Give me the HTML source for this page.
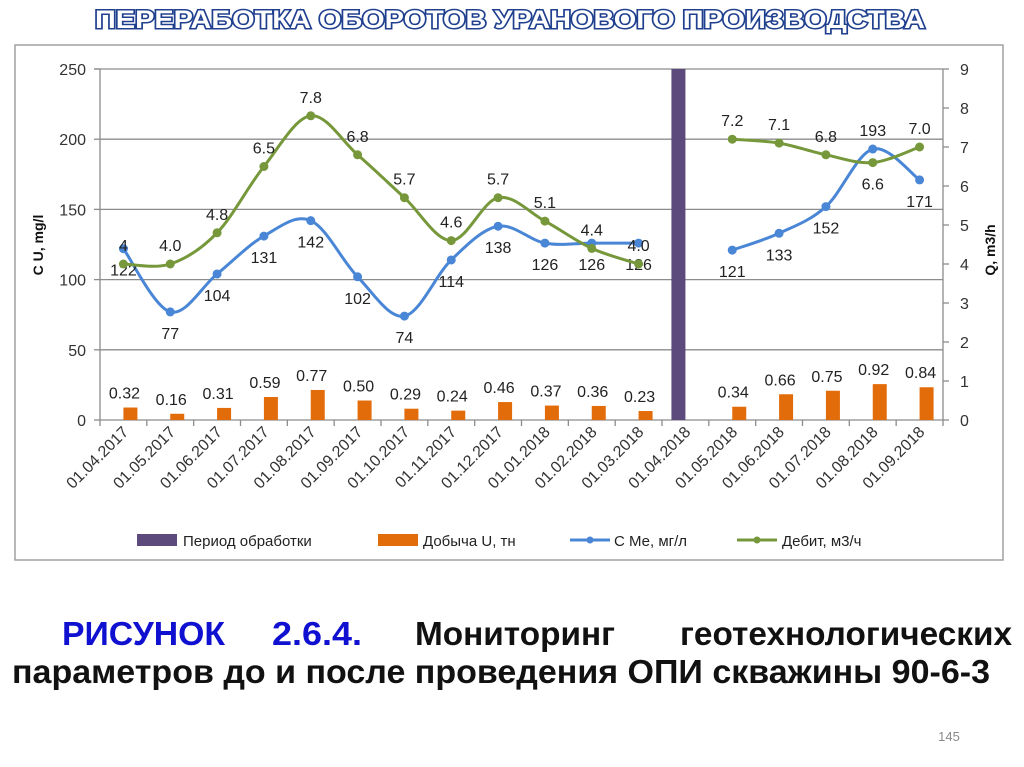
<!DOCTYPE html>
<html><head><meta charset="utf-8"><style>
html,body{margin:0;padding:0;background:#fff;}
svg{display:block;font-family:"Liberation Sans","DejaVu Sans",sans-serif;}
</style></head><body>
<svg id="s" width="1024" height="767" viewBox="0 0 1024 767" xmlns="http://www.w3.org/2000/svg">
<text x="95" y="28" font-size="25" font-weight="bold" fill="#fff" stroke="#1f3f8f" stroke-width="3" paint-order="stroke" textLength="830" lengthAdjust="spacingAndGlyphs">ПЕРЕРАБОТКА ОБОРОТОВ УРАНОВОГО ПРОИЗВОДСТВА</text>
<rect x="15" y="45" width="988" height="515" fill="#fff" stroke="#a0a0a0" stroke-width="1.5"/>
<g id="chart"></g>
<g>
<rect x="137" y="534" width="40" height="12" fill="#5c4a7d"/>
<text x="183" y="546" font-size="15" fill="#222">Период обработки</text>
<rect x="378" y="534" width="40" height="12" fill="#e36c0a"/>
<text x="423" y="546" font-size="15" fill="#222">Добыча U, тн</text>
<line x1="570" y1="540" x2="610" y2="540" stroke="#4a86d6" stroke-width="3"/>
<circle cx="590" cy="540" r="3.5" fill="#4a86d6"/>
<text x="614" y="546" font-size="15" fill="#222">С Ме, мг/л</text>
<line x1="737" y1="540" x2="777" y2="540" stroke="#76983b" stroke-width="3"/>
<circle cx="757" cy="540" r="3.5" fill="#76983b"/>
<text x="782" y="546" font-size="15" fill="#222">Дебит, м3/ч</text>
</g>
<g font-weight="bold" font-size="33">
<text x="62" y="645" fill="#1010d0" textLength="163" lengthAdjust="spacingAndGlyphs">РИСУНОК</text>
<text x="272" y="645" fill="#1010d0" textLength="90" lengthAdjust="spacingAndGlyphs">2.6.4.</text>
<text x="415" y="645" fill="#111" textLength="200" lengthAdjust="spacingAndGlyphs">Мониторинг</text>
<text x="680" y="645" fill="#111" textLength="332" lengthAdjust="spacingAndGlyphs">геотехнологических</text>
<text x="12" y="683" fill="#111" textLength="978" lengthAdjust="spacingAndGlyphs">параметров до и после проведения ОПИ скважины 90-6-3</text>
</g>
<text x="949" y="741" font-size="13" fill="#888" text-anchor="middle">145</text>
</svg>
<script>
const categories=["01.04.2017","01.05.2017","01.06.2017","01.07.2017","01.08.2017","01.09.2017","01.10.2017","01.11.2017","01.12.2017","01.01.2018","01.02.2018","01.03.2018","01.04.2018","01.05.2018","01.06.2018","01.07.2018","01.08.2018","01.09.2018"];
const concValues=[122,77,104,131,142,102,74,114,138,126,126,126,null,121,133,152,193,171];
const debitValues=[4.0,4.0,4.8,6.5,7.8,6.8,5.7,4.6,5.7,5.1,4.4,4.0,null,7.2,7.1,6.8,6.6,7.0];
const debitLabels=["4","4.0","4.8","6.5","7.8","6.8","5.7","4.6","5.7","5.1","4.4","4.0",null,"7.2","7.1","6.8","6.6","7.0"];
const prodValues=[0.32,0.16,0.31,0.59,0.77,0.50,0.29,0.24,0.46,0.37,0.36,0.23,null,0.34,0.66,0.75,0.92,0.84];
const prodLabels=["0.32","0.16","0.31","0.59","0.77","0.50","0.29","0.24","0.46","0.37","0.36","0.23",null,"0.34","0.66","0.75","0.92","0.84"];
const periodValues=[null,null,null,null,null,null,null,null,null,null,null,null,9,null,null,null,null,null];
const leftTicks=[0,50,100,150,200,250];
const rightTicks=[0,1,2,3,4,5,6,7,8,9];
const concLabelPos=["below","below","below","below","below","below","below","below","below","below","below","below",null,"below","below","below","above","below"];
const debitLabelPos=["above","above","above","above","above","above","above","above","above","above","above","above",null,"above","above","above","below","above"];

const NS="http://www.w3.org/2000/svg";
const g=document.getElementById('chart');
const X0=100,X1=943,Y0=420,Y1=69;
const bw=(X1-X0)/categories.length;
const xC=i=>X0+(i+0.5)*bw;
const yL=v=>Y0-(v/250)*(Y0-Y1);
const yR=v=>Y0-(v/9)*(Y0-Y1);
function el(t,a,p){const e=document.createElementNS(NS,t);for(const k in a)e.setAttribute(k,a[k]);(p||g).appendChild(e);return e;}
function txt(x,y,s,a){const e=el('text',Object.assign({x:x,y:y},a));e.textContent=s;return e;}

leftTicks.forEach(v=>{
  if(v>0){const l=el('line',{x1:X0,x2:X1,y1:yL(v),y2:yL(v),stroke:'#8c8c8c','stroke-width':1.3});
  
  }
  const t=txt(86,yL(v)+6,String(v),{'font-size':16,fill:'#333','text-anchor':'end'});
  
  
});
rightTicks.forEach(v=>{
  const l=el('line',{x1:X1,x2:X1+6,y1:yR(v),y2:yR(v),stroke:'#8c8c8c','stroke-width':1.3});
  
  
  const t=txt(960,yR(v)+6,String(v),{'font-size':16,fill:'#333'});
  
  
});
let ax=el('path',{d:`M${X0-6} ${Y1}H${X0}V${Y0}H${X1}V${Y1}`,fill:'none',stroke:'#8c8c8c','stroke-width':1.3});


for(let i=0;i<=categories.length;i++){const l=el('line',{x1:X0+i*bw,x2:X0+i*bw,y1:Y0,y2:Y0+6,stroke:'#8c8c8c','stroke-width':1.3});
  
  }
leftTicks.forEach(v=>{const l=el('line',{x1:X0-6,x2:X0,y1:yL(v),y2:yL(v),stroke:'#8c8c8c','stroke-width':1.3});
  
  });

categories.forEach((c,i)=>{
  const x=xC(i)+6,y=433;
  const t=txt(x,y,c,{'font-size':16,fill:'#333','text-anchor':'end',transform:`rotate(-45 ${x} ${y})`});
  
  
});
let t1=txt(0,0,'C U, mg/l',{'font-size':14,'font-weight':'bold',fill:'#111','text-anchor':'middle',transform:'translate(43 245) rotate(-90)'});


let t2=txt(0,0,'Q, m3/h',{'font-size':14,'font-weight':'bold',fill:'#111','text-anchor':'middle',transform:'translate(995 250) rotate(-90)'});



const barW=14;
periodValues.forEach((v,i)=>{if(v==null)return;
  const r=el('rect',{x:xC(i)-barW,y:yR(v),width:barW,height:Y0-yR(v),fill:'#5c4a7d'});
  
  
});
prodValues.forEach((v,i)=>{if(v==null)return;
  const r=el('rect',{x:xC(i),y:yR(v),width:barW,height:Y0-yR(v),fill:'#e36c0a'});
  
  
  const t=txt(xC(i)+1,yR(v)-9,prodLabels[i],{'font-size':16,fill:'#222','text-anchor':'middle'});
  
  
});

function smooth(pts){
  let d=`M${pts[0][0]} ${pts[0][1]}`;
  for(let i=0;i<pts.length-1;i++){
    const p0=pts[i-1]||pts[i],p1=pts[i],p2=pts[i+1],p3=pts[i+2]||p2,k=6;
    d+=` C${p1[0]+(p2[0]-p0[0])/k} ${p1[1]+(p2[1]-p0[1])/k} ${p2[0]-(p3[0]-p1[0])/k} ${p2[1]-(p3[1]-p1[1])/k} ${p2[0]} ${p2[1]}`;
  }
  return d;
}
function series(vals,yf,color,name,labels,pos,fmt){
  let segs=[],cur=[];
  vals.forEach((v,i)=>{if(v==null){if(cur.length)segs.push(cur);cur=[];}else cur.push([xC(i),yf(v)]);});
  if(cur.length)segs.push(cur);
  segs.forEach(s=>{const p=el('path',{d:smooth(s),fill:'none',stroke:color,'stroke-width':3});
    
    });
  vals.forEach((v,i)=>{if(v==null)return;
    const c=el('circle',{cx:xC(i),cy:yf(v),r:4.5,fill:color});
    
    
    const up=pos[i]==='above';
    const t=txt(xC(i),yf(v)+(up?-13:27),labels?labels[i]:fmt(v),{'font-size':16,fill:'#222','text-anchor':'middle'});
    
    
  });
}
series(concValues,yL,'#4a86d6','concentration',null,concLabelPos,v=>String(v));
series(debitValues,yR,'#76983b','debit',debitLabels,debitLabelPos,v=>v.toFixed(1));
</script>
</body></html>
